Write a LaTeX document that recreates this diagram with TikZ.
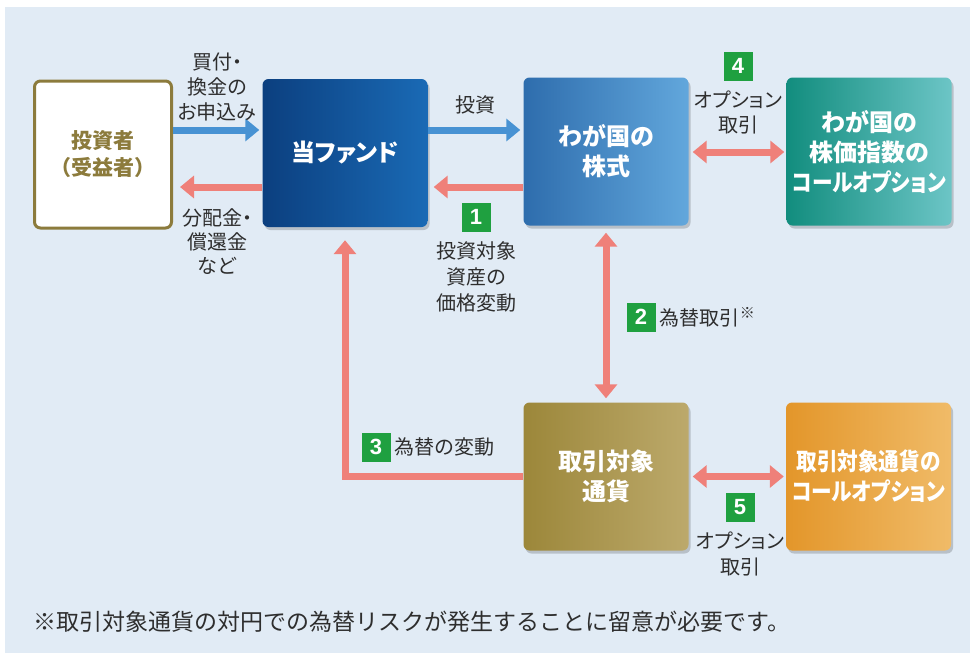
\documentclass[tikz,border=0pt]{standalone}
\usepackage{fontspec}
\setmainfont{Noto Sans CJK JP}
\newfontfamily\pfont{Noto Sans CJK JP}[RawFeature=+palt]
\newfontfamily\narrowfont{Noto Sans CJK JP}[RawFeature=+palt, FakeStretch=0.86]
\newfontfamily\numfont{Liberation Sans}
\usetikzlibrary{arrows.meta, shadows}

\definecolor{bgblue}{HTML}{E1EBF5}
\definecolor{arblue}{HTML}{4792D3}
\definecolor{arred}{HTML}{EF8079}
\definecolor{badgegreen}{HTML}{1FA040}
\definecolor{olive}{HTML}{8C7B3C}
\definecolor{txtgray}{HTML}{2E2E2E}

\begin{document}
\begin{tikzpicture}[x=1pt, y=-1pt,
  box/.style={rounded corners=6pt, minimum width=165pt, minimum height=148pt, inner sep=0pt,
    align=center, text=white, font=\pfont\bfseries\fontsize{24}{30}\selectfont,
    drop shadow={shadow xshift=2pt, shadow yshift=-3pt, fill=black, opacity=0.18}},
  lab/.style={align=center, text=txtgray, font=\fontsize{20}{26}\selectfont},
  badge/.style={fill=badgegreen, text=white, minimum size=29pt, inner sep=0pt,
    font=\numfont\bfseries\fontsize{22}{22}\selectfont},
  bluearr/.style={draw=arblue, line width=7pt, -{Triangle[length=14pt, width=22pt]}},
  redarr/.style={draw=arred, line width=7pt, -{Triangle[length=14pt, width=22pt]}},
  redboth/.style={draw=arred, line width=7pt, {Triangle[length=14pt, width=22pt]}-{Triangle[length=14pt, width=22pt]}}]

% background
\useasboundingbox (0,0) rectangle (970,657);
\fill[white] (0,0) rectangle (970,657);
\fill[bgblue] (5,7) rectangle (970,653);

% boxes
\node[draw=olive, line width=3pt, fill=white, rounded corners=6pt, minimum width=137pt, minimum height=147pt,
  align=center, text=olive, font=\bfseries\fontsize{21}{27}\selectfont] (inv) at (103,154.5) {投資者\\（受益者）};
\node[box, left color={rgb,255:red,11;green,63;blue,127}, right color={rgb,255:red,26;green,106;blue,181}] (fund) at (345,153) {当ファンド};
\node[box, left color={rgb,255:red,46;green,109;blue,173}, right color={rgb,255:red,98;green,167;blue,220}] (stk) at (606,151.5) {わが国の\\株式};
\node[box, left color={rgb,255:red,18;green,141;blue,126}, right color={rgb,255:red,108;green,197;blue,198}] (idx) at (869,151.5)
  {わが国の\\株価指数の\\{\narrowfont\bfseries コールオプション}};
\node[box, left color={rgb,255:red,156;green,135;blue,58}, right color={rgb,255:red,188;green,169;blue,107}] (cur) at (606,476.5) {取引対象\\通貨};
\node[box, left color={rgb,255:red,227;green,150;blue,42}, right color={rgb,255:red,240;green,187;blue,104},
  font=\narrowfont\bfseries\fontsize{24}{30}\selectfont] (copt) at (868.5,476.5) {取引対象通貨の\\コールオプション};

% rows for the arrows
\coordinate (up) at (0,130);
\coordinate (dn) at (0,187);
\coordinate (md) at (0,152);

% arrows
\draw[bluearr, shorten >=3pt] (inv.east |- up) -- (fund.west |- up);
\draw[redarr, shorten >=7pt] (fund.west |- dn) -- (inv.east |- dn);
\draw[bluearr, shorten >=3pt] (fund.east |- up) -- (stk.west |- up);
\draw[redarr, shorten >=6pt] (stk.west |- dn) -- (fund.east |- dn);
\draw[redboth, shorten <=4pt, shorten >=2pt] (stk.east |- md) -- (idx.west |- md);
\draw[redboth, shorten <=7pt, shorten >=4pt] (stk.south) -- (cur.north);
\draw[redarr, shorten >=13pt] (cur.west) -| (fund.south);
\draw[redboth, shorten <=4pt, shorten >=2pt] (cur.east) -- (copt.west);

% labels
\node[lab, font=\pfont\fontsize{20}{25}\selectfont] (lbuy) at (217,87) {買付・\\換金の\\お申込み};
\node[lab, font=\pfont\fontsize{20}{24}\selectfont] (lret) at (217,242) {分配金・\\償還金\\など};
\node[lab] (linv) at (475,105) {投資};
\node[badge] (b1) at (476,217) {1};
\node[lab] (lpx) at (476,277) {投資対象\\資産の\\価格変動};
\node[badge] (b4) at (738,66) {4};
\node[lab, font=\pfont\fontsize{20}{25}\selectfont] (lop1) at (738,112) {オプション\\取引};
\node[badge] (b2) at (641,317) {2};
\node[lab, anchor=west, inner sep=4pt] (lfx) at (b2.east) {為替取引\raisebox{7pt}{\fontsize{15}{15}\selectfont ※}};
\node[badge] (b3) at (376,447) {3};
\node[lab, anchor=west, inner sep=4pt] (lchg) at (b3.east) {為替の変動};
\node[badge] (b5) at (740,507) {5};
\node[lab, font=\pfont\fontsize{20}{26}\selectfont] (lop2) at (740,554) {オプション\\取引};

% note
\node[anchor=west, text=txtgray, font=\fontsize{23}{23}\selectfont] (note) at (30,622)
  {※取引対象通貨の対円での為替リスクが発生することに留意が必要です。};
\end{tikzpicture}
\end{document}
